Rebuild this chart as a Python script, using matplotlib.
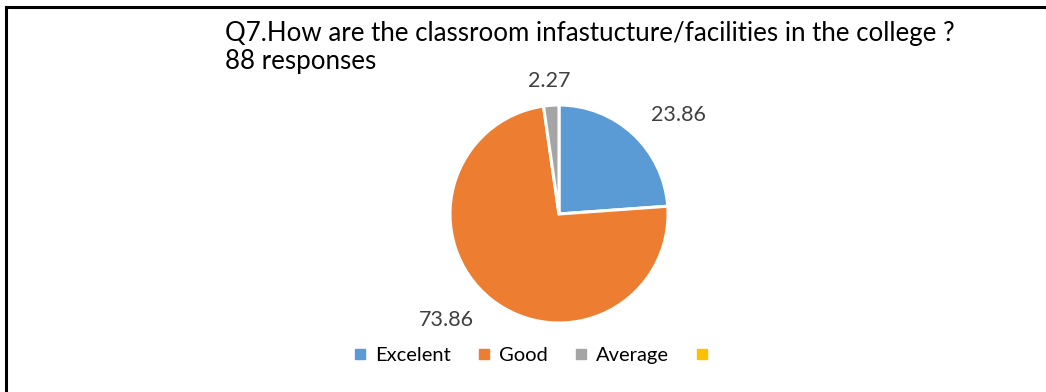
import numpy as np
import matplotlib.pyplot as plt
from matplotlib.lines import Line2D

categorias = ['Excelent', 'Good', 'Average', '']
porcentajes = [23.86, 73.86, 2.27, 0.0]
colores = ['#5B9BD5', '#ED7D31', '#A5A5A5', '#FFC000']
titulo = 'Q7.How are the classroom infastucture/facilities in the college ?\n88 responses'

plt.rcParams['font.family'] = ['Lato', 'DejaVu Sans']

fig = plt.figure(figsize=(10.46, 3.92), dpi=100)
W, H = 1046, 392

# marco (solo arriba e izquierda, como en la captura)
fig.add_artist(Line2D([6/W, 1], [1-7/H, 1-7/H], color='black', lw=2.2))
fig.add_artist(Line2D([6/W, 6/W], [0, 1-7/H], color='black', lw=2.2))

# centro y radio del pie en pixeles
cx, cy, r = 559, 214, 109
ax = fig.add_axes([(cx-r)/W, (H-cy-r)/H, 2*r/W, 2*r/H])
valores = [v for v in porcentajes if v > 0]
wedges, _ = ax.pie(valores, colors=colores[:len(valores)], startangle=90,
                   counterclock=False, radius=1,
                   wedgeprops=dict(edgecolor='white', linewidth=2.2))
ax.set_xlim(-1, 1)
ax.set_ylim(-1, 1)
ax.set_aspect('equal')
ax.axis('off')

# etiquetas fuera del borde, alineadas segun el lado
distancias = [1.24, 1.25, 1.22]
alineacion = ['left', 'right', 'center']
for w, v, d, a in zip(wedges, valores, distancias, alineacion):
    ang = np.deg2rad((w.theta1 + w.theta2) / 2)
    ax.text(d*np.cos(ang), d*np.sin(ang), f'{v:.2f}', ha=a, va='center',
            fontsize=15.5, color='#404040', clip_on=False)

lineas = titulo.split('\n')
fig.text(225/W, 1-33/H, lineas[0], fontsize=18.6, va='center', ha='left', color='black')
fig.text(225/W, 1-62/H, lineas[1], fontsize=18.6, va='center', ha='left', color='black')

handles = [Line2D([], [], marker='s', linestyle='', markersize=7, color=c) for c in colores]
fig.legend(handles, categorias, ncol=4, loc='center', bbox_to_anchor=(535/W, 1-355/H),
           frameon=False, fontsize=14.5, handlelength=0.7, handletextpad=0.4,
           columnspacing=1.3)

fig.savefig('out.png', dpi=100)
